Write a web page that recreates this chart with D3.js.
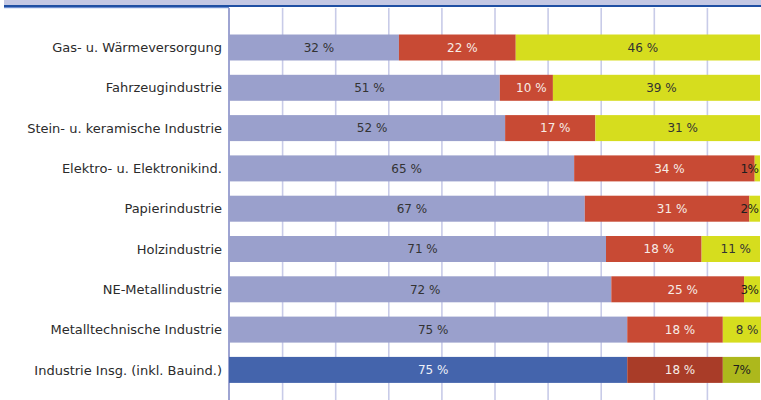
<!DOCTYPE html>
<html><head><meta charset="utf-8">
<script src="https://cdn.jsdelivr.net/npm/d3@7"></script>
<style>html,body{margin:0;padding:0;background:#fff;overflow:hidden}</style>
</head><body>
<svg id="c" width="761" height="400"></svg>
<script>
const categories = ["Gas- u. Wärmeversorgung","Fahrzeugindustrie","Stein- u. keramische Industrie","Elektro- u. Elektronikind.","Papierindustrie","Holzindustrie","NE-Metallindustrie","Metalltechnische Industrie","Industrie Insg. (inkl. Bauind.)"];
const seriesA = [32,51,52,65,67,71,72,75,75];
const seriesB = [22,10,17,34,31,18,25,18,18];
const seriesC = [46,39,31,1,2,11,3,8,7];
const gridTicks = [10,20,30,40,50,60,70,80,90];

const svg = d3.select("#c");
const font = "'DejaVu Sans',sans-serif";
const x = d3.scaleLinear().domain([0,100]).range([229,760]);
const y = d3.scaleBand().domain(categories).range([27.35,390.05]).paddingInner(0.355).paddingOuter(0.1775);

// header
svg.append("rect").attr("x",4).attr("y",0).attr("width",757).attr("height",5).attr("fill","#c4c8e4");
svg.append("rect").attr("x",4).attr("y",5).attr("width",757).attr("height",2).attr("fill","#1f4fa3");
svg.append("rect").attr("x",4).attr("y",7).attr("width",225).attr("height",1.2).attr("fill","#6f8fd0");

// gridlines
svg.append("g").selectAll("line").data(gridTicks).join("line")
  .attr("x1",d=>x(d)+0.5).attr("x2",d=>x(d)+0.5).attr("y1",8).attr("y2",400)
  .attr("stroke","#c8cbe8").attr("stroke-width",1.6);
svg.append("line").attr("x1",x(0)).attr("x2",x(0)).attr("y1",8).attr("y2",400)
  .attr("stroke","#9ea4d2").attr("stroke-width",2);

const rows = categories.map((c,i)=>({c,i,vals:[seriesA[i],seriesB[i],seriesC[i]]}));
const normal = ["#9aa0cc","#c84a34","#d6dd1e"];
const total = ["#4464ac","#a93c28","#adb81c"];
const txtN = ["#333333","#f7ece6","#333333"];
const txtT = ["#eef0f8","#f7ece6","#2a2a2a"];

const g = svg.append("g");
rows.forEach(r=>{
  let acc = 0;
  const isTot = r.i === categories.length-1;
  r.vals.forEach((v,k)=>{
    const x0 = x(acc), x1 = x(acc+v);
    acc += v;
    g.append("rect").attr("x",x0).attr("y",y(r.c)).attr("width",x1-x0).attr("height",y.bandwidth())
      .attr("fill",(isTot?total:normal)[k]);
    const lbl = v < 8 ? v+"%" : v+" %";
    const t = g.append("text").attr("y",y(r.c)+y.bandwidth()/2).attr("dy","0.36em")
      .attr("font-family",font).attr("font-size",12)
      .attr("fill",(isTot?txtT:txtN)[k]).text(lbl);
    if (v < 8) t.attr("fill","#1e1e1e").attr("letter-spacing",-0.5);
    const w = t.node().getComputedTextLength();
    let cx = (x0+x1)/2 + (v<8?0:5);
    if (cx + w/2 > 758.5) cx = 758.5 - w/2;
    t.attr("x",cx).attr("text-anchor","middle");
  });
});

// category labels
svg.append("g").selectAll("text").data(categories).join("text")
  .attr("x",222).attr("y",d=>y(d)+y.bandwidth()/2).attr("dy","0.36em")
  .attr("text-anchor","end").attr("font-family",font).attr("font-size",13)
  .attr("fill","#2b2b2b").text(d=>d);
</script>
</body></html>
